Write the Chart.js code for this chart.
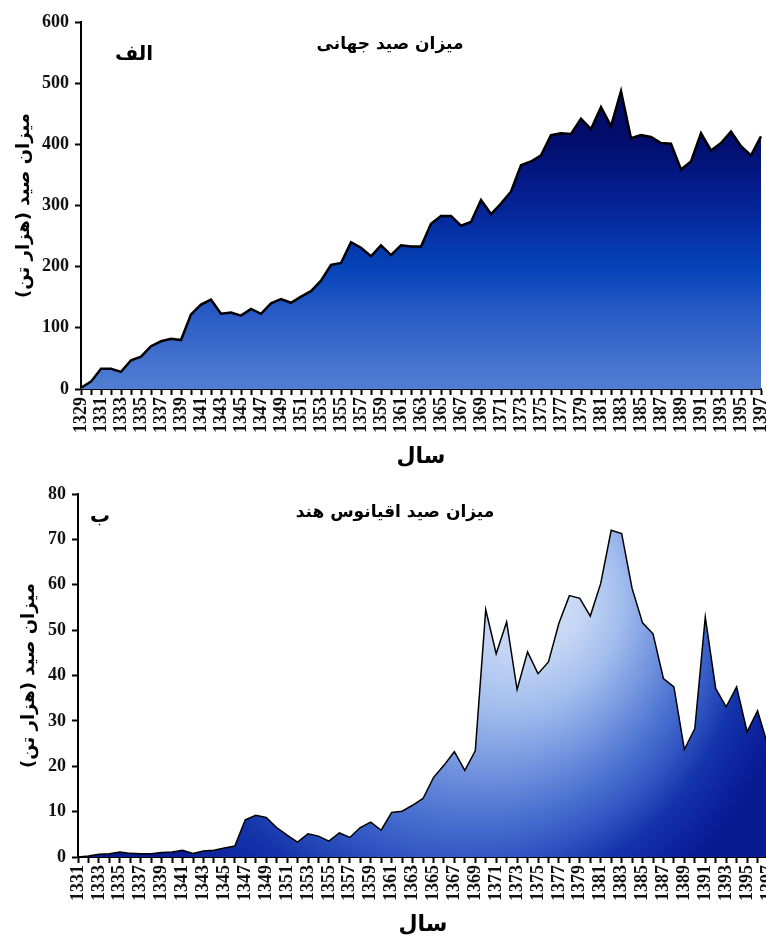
<!DOCTYPE html>
<html>
<head>
<meta charset="utf-8">
<script src="https://cdn.jsdelivr.net/npm/chart.js@4.4.1/dist/chart.umd.min.js"></script>
<style>
  html, body { margin: 0; padding: 0; background: #fff; overflow: hidden; width: 766px; height: 938px; }
  .box { position: absolute; left: 0; }
  #worldBox { top: 0; }
  #indianBox { top: 470px; }
</style>
</head>
<body>
<div class="box" id="worldBox"><canvas id="worldChart" width="785" height="470"></canvas></div>
<div class="box" id="indianBox"><canvas id="indianChart" width="800" height="468"></canvas></div>
<script>
// years (solar hijri) for each panel
const worldYears = ['1329','1330','1331','1332','1333','1334','1335','1336','1337','1338',
  '1339','1340','1341','1342','1343','1344','1345','1346','1347','1348',
  '1349','1350','1351','1352','1353','1354','1355','1356','1357','1358',
  '1359','1360','1361','1362','1363','1364','1365','1366','1367','1368',
  '1369','1370','1371','1372','1373','1374','1375','1376','1377','1378',
  '1379','1380','1381','1382','1383','1384','1385','1386','1387','1388',
  '1389','1390','1391','1392','1393','1394','1395','1396','1397'];

const indianYears = ['1331','1332','1333','1334','1335','1336','1337','1338','1339','1340',
  '1341','1342','1343','1344','1345','1346','1347','1348','1349','1350',
  '1351','1352','1353','1354','1355','1356','1357','1358','1359','1360',
  '1361','1362','1363','1364','1365','1366','1367','1368','1369','1370',
  '1371','1372','1373','1374','1375','1376','1377','1378','1379','1380',
  '1381','1382','1383','1384','1385','1386','1387','1388','1389','1390',
  '1391','1392','1393','1394','1395','1396','1397'];

// catch, thousand tonnes
const worldCatch = [2, 12, 33, 33, 28, 47, 53, 70, 78, 82,
  80, 122, 138, 146, 123, 125, 120, 131, 123, 140,
  147, 141, 151, 160, 177, 203, 206, 240, 231, 217,
  235, 219, 235, 233, 233, 270, 283, 283, 267, 273,
  309, 286, 303, 323, 366, 372, 382, 415, 418, 417,
  442, 425, 461, 430, 487, 410, 415, 412, 402, 401,
  359, 372, 418, 390, 402, 421, 397, 382, 413];

const indianCatch = [0, 0.2, 0.6, 0.7, 1.1, 0.8, 0.7, 0.7, 1.0, 1.1,
  1.5, 0.8, 1.3, 1.5, 2.0, 2.4, 8.2, 9.2, 8.7, 6.5,
  4.8, 3.3, 5.1, 4.6, 3.5, 5.3, 4.3, 6.5, 7.7, 5.9,
  9.8, 10.1, 11.4, 12.9, 17.5, 20.2, 23.2, 19.1, 23.4, 54.5,
  44.8, 51.8, 36.9, 45.2, 40.4, 43.0, 51.5, 57.6, 57.0, 53.1,
  60.3, 72.0, 71.3, 59.2, 51.6, 49.2, 39.3, 37.5, 23.7, 28.3,
  52.9, 37.1, 33.1, 37.5, 27.6, 32.2, 24.5];

const faFont = '"DejaVu Sans", sans-serif';
const numFont = { family: '"Liberation Serif", "Times New Roman", serif', size: 18, weight: 'bold' };
const yTitle = '\u200Fمیزان صید (هزار تن)\u200F';

// only every other year gets a label, every year gets a tick mark
function yearTick(value, index) {
  return index % 2 === 0 ? this.getLabelForValue(value) : '';
}

// panel letter and heading inside the plot
const panelText = {
  id: 'panelText',
  afterDraw(chart, args, opts) {
    const ctx = chart.ctx;
    ctx.save();
    ctx.fillStyle = '#000';
    ctx.textAlign = 'center';
    ctx.textBaseline = 'middle';
    opts.items.forEach(it => {
      ctx.font = 'bold ' + it.size + 'px ' + faFont;
      ctx.fillText(it.text, it.x, it.y);
    });
    ctx.restore();
  }
};

function worldFill(context) {
  const { ctx, chartArea } = context.chart;
  if (!chartArea) return '#1d3fae';
  const g = ctx.createLinearGradient(0, chartArea.top, 0, chartArea.bottom);
  g.addColorStop(0, '#000650');
  g.addColorStop(0.32, '#030d6c');
  g.addColorStop(0.46, '#041d8e');
  g.addColorStop(0.67, '#0543b8');
  g.addColorStop(0.8, '#2b5cc6');
  g.addColorStop(1, '#527fd3');
  return g;
}

// light spot near the 1370s-1380s, darker towards the bottom and the sides
function indianFill(context) {
  const { ctx, chartArea } = context.chart;
  if (!chartArea) return '#4d74d2';
  const w = chartArea.right - chartArea.left;
  const h = chartArea.bottom - chartArea.top;
  const g = ctx.createRadialGradient(
    chartArea.left + 0.68 * w, chartArea.top + 0.29 * h, 0,
    chartArea.left + 0.50 * w, chartArea.top + 0.29 * h, 0.55 * w);
  g.addColorStop(0, '#d5e2f8');
  g.addColorStop(0.15, '#c3d5f4');
  g.addColorStop(0.3, '#a0bbed');
  g.addColorStop(0.45, '#7394df');
  g.addColorStop(0.58, '#4a72d0');
  g.addColorStop(0.68, '#3358c4');
  g.addColorStop(0.8, '#1434aa');
  g.addColorStop(0.95, '#0a1e98');
  g.addColorStop(1, '#081a90');
  return g;
}

function makeChart(id, cfg) {
  return new Chart(document.getElementById(id), {
    type: 'line',
    data: {
      labels: cfg.labels,
      datasets: [{
        data: cfg.values,
        fill: 'origin',
        backgroundColor: cfg.fill,
        borderColor: '#000',
        borderWidth: cfg.lineWidth,
        pointRadius: 0,
        tension: 0
      }]
    },
    options: {
      responsive: false,
      animation: false,
      layout: { padding: cfg.padding },
      plugins: {
        legend: { display: false },
        tooltip: { enabled: false },
        panelText: { items: cfg.texts }
      },
      scales: {
        x: {
          grid: { drawOnChartArea: false, tickLength: 6, tickWidth: 2, tickColor: '#000' },
          border: { display: true, color: '#000', width: 2 },
          ticks: { autoSkip: false, minRotation: 90, maxRotation: 90, padding: 2, color: '#111', font: numFont, callback: yearTick },
          title: { display: true, text: 'سال', color: '#000', font: { family: faFont, size: 22, weight: 'bold' }, padding: { top: 4, bottom: 0 } },
          afterFit: s => { s.height = cfg.xHeight; }
        },
        y: {
          min: 0,
          max: cfg.yMax,
          grid: { drawOnChartArea: false, tickLength: 6, tickWidth: 2, tickColor: '#000' },
          border: { display: true, color: '#000', width: 2 },
          ticks: { stepSize: cfg.step, padding: 6, color: '#111', font: numFont },
          title: { display: true, text: yTitle, color: '#000', font: { family: faFont, size: 18, weight: 'bold' }, padding: { top: cfg.titleGap, bottom: 0 } },
          afterFit: s => { s.width = cfg.yWidth; }
        }
      }
    },
    plugins: [panelText]
  });
}

makeChart('worldChart', {
  labels: worldYears,
  values: worldCatch,
  fill: worldFill,
  lineWidth: 2.5,
  yMax: 600,
  step: 100,
  padding: { top: 22, right: 24, bottom: 0, left: 0 },
  xHeight: 81,
  yWidth: 81,
  titleGap: 14,
  texts: [
    { text: 'میزان صید جهانی', x: 390, y: 45, size: 17 },
    { text: 'الف', x: 134, y: 55, size: 20 }
  ]
});

makeChart('indianChart', {
  labels: indianYears,
  values: indianCatch,
  fill: indianFill,
  lineWidth: 1.5,
  yMax: 80,
  step: 10,
  padding: { top: 24, right: 32, bottom: 0, left: 0 },
  xHeight: 81,
  yWidth: 78,
  titleGap: 19,
  texts: [
    { text: 'میزان صید اقیانوس هند', x: 395, y: 43, size: 17 },
    { text: 'ب', x: 100, y: 47, size: 20 }
  ]
});
</script>
</body>
</html>
